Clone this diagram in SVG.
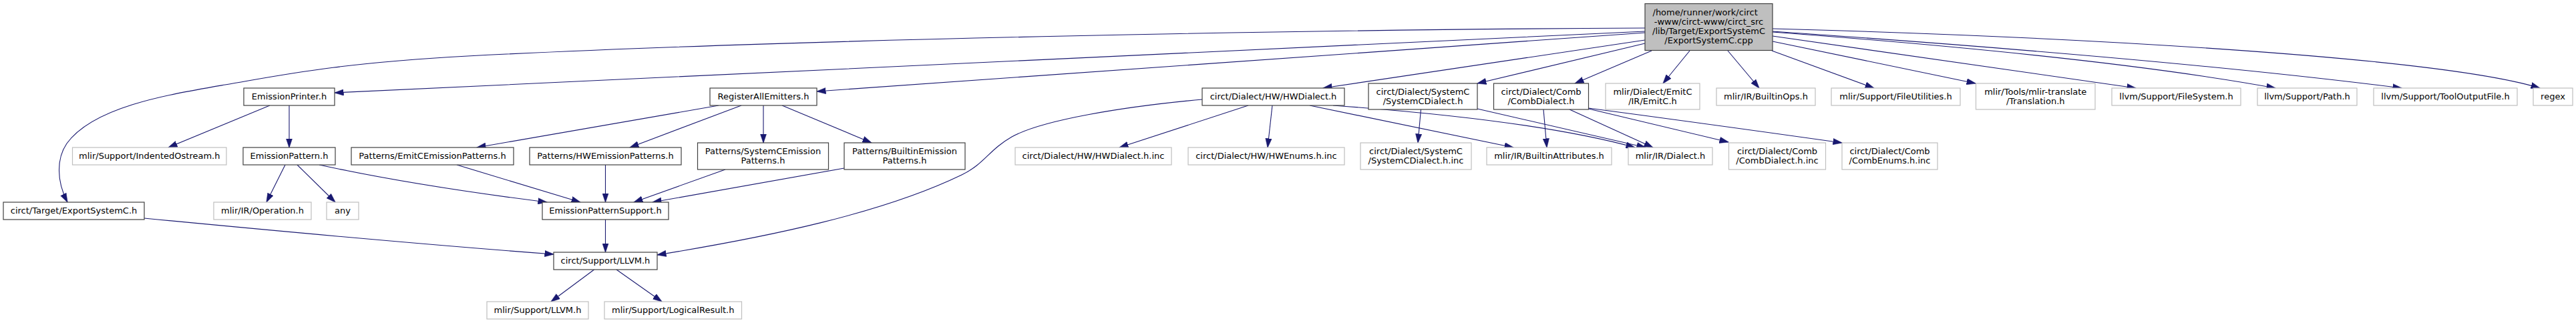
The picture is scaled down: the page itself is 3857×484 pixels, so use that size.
<svg xmlns="http://www.w3.org/2000/svg" width="3857" height="484" viewBox="0 0 3857 484">
<style>
.e{fill:none;stroke:#191970;stroke-width:1.1;marker-end:url(#ah)}
.n rect{fill:#fff;stroke:#404040;stroke-width:1.2}
.u rect{fill:#fff;stroke:#bfbfbf;stroke-width:1.2}
.t rect{fill:#bfbfbf;stroke:#404040;stroke-width:1.2}
text{font-family:"DejaVu Sans","Liberation Sans",sans-serif;font-size:13px;text-anchor:middle;fill:#000}
</style>
<defs>
<marker id="ah" markerUnits="userSpaceOnUse" markerWidth="14" markerHeight="10" viewBox="0 0 14 10" refX="13.5" refY="5" orient="auto">
<path d="M0,0.3 L14,5 L0,9.7 z" fill="#191970" stroke="#191970" stroke-width="0.5"/>
</marker>
</defs>
<rect width="3857" height="484" fill="#fff"/>
<g id="edges">
<path class="e" d="M2463,42 C2000,44 1200,58 700,84 C500,95 420,113 337,127 C250,142 140,160 100,215 C85,237 84,270 101,303"/>
<path class="e" d="M2463,47 C1900,70 1000,120 501,139"/>
<path class="e" d="M2463,49 C2000,82 1600,112 1223,137"/>
<path class="e" d="M2463,60 L1981,132"/>
<path class="e" d="M2463,65 L2212,125"/>
<path class="e" d="M2473,76 L2358,125"/>
<path class="e" d="M2530,76 L2490,125"/>
<path class="e" d="M2587,76 L2634,132"/>
<path class="e" d="M2653,76 L2806,132"/>
<path class="e" d="M2654,62 L2958,125"/>
<path class="e" d="M2654,54 L3198,132"/>
<path class="e" d="M2654,48 Q3150,85 3407,132"/>
<path class="e" d="M2654,47 Q3250,88 3596,132"/>
<path class="e" d="M2654,43 C3100,55 3650,85 3803,132"/>
<path class="e" d="M404,158 L252,221"/>
<path class="e" d="M433,158 L433,221"/>
<path class="e" d="M427,247 L399,303"/>
<path class="e" d="M445,247 L502,303"/>
<path class="e" d="M478,247 Q620,278 819,303"/>
<path class="e" d="M1076,158 L714,221"/>
<path class="e" d="M1110,158 L943,221"/>
<path class="e" d="M1143,158 L1143,214"/>
<path class="e" d="M1171,158 L1305,214"/>
<path class="e" d="M684,247 L869,303"/>
<path class="e" d="M906.5,247 L906.5,303"/>
<path class="e" d="M1086,254 L949,303"/>
<path class="e" d="M1264,252 L977,303"/>
<path class="e" d="M906.5,329 L906.5,378"/>
<path class="e" d="M216,327 Q600,364 829,381"/>
<path class="e" d="M1800,149 C1680,160 1560,180 1515,205 C1480,225 1475,245 1440,262 C1320,320 1150,355 984,382"/>
<path class="e" d="M889.6,404 L825,452"/>
<path class="e" d="M923,404 L991,452"/>
<path class="e" d="M1869,158 L1676,221"/>
<path class="e" d="M1905,158 L1898,221"/>
<path class="e" d="M1961,158 L2266,221"/>
<path class="e" d="M1996,158 Q2300,180 2448,221"/>
<path class="e" d="M2127.5,164 L2123,214"/>
<path class="e" d="M2212,163 L2464,221"/>
<path class="e" d="M2311,164 L2316,221"/>
<path class="e" d="M2350,164 L2475,221"/>
<path class="e" d="M2378.5,163 L2588,213"/>
<path class="e" d="M2378.5,162 Q2560,186 2758,214"/>
</g>
<g id="n-top" class="t"><rect x="2463" y="5.5" width="191" height="70"/>
<text x="2474.5" y="22.5" style="text-anchor:start">/home/runner/work/circt</text>
<text x="2558.5" y="36.7">-www/circt-www/circt_src</text>
<text x="2558.5" y="50.9">/lib/Target/ExportSystemC</text>
<text x="2558.5" y="65">/ExportSystemC.cpp</text></g>
<g id="n-emissionprinter" class="n"><rect x="365" y="132" width="136" height="26"/><text x="433" y="149">EmissionPrinter.h</text></g>
<g id="n-registerall" class="n"><rect x="1063" y="132" width="160" height="26"/><text x="1143" y="149">RegisterAllEmitters.h</text></g>
<g id="n-hwdialect" class="n"><rect x="1800" y="132" width="213" height="26"/><text x="1906.5" y="149">circt/Dialect/HW/HWDialect.h</text></g>
<g id="n-systemcdialect" class="n"><rect x="2049" y="125" width="163" height="39"/><text x="2130.5" y="142">circt/Dialect/SystemC</text><text x="2130.5" y="156">/SystemCDialect.h</text></g>
<g id="n-combdialect" class="n"><rect x="2236.5" y="125" width="142" height="39"/><text x="2307.5" y="142">circt/Dialect/Comb</text><text x="2307.5" y="156">/CombDialect.h</text></g>
<g id="n-emitc" class="u"><rect x="2404" y="125" width="141" height="39"/><text x="2474.5" y="142">mlir/Dialect/EmitC</text><text x="2474.5" y="156">/IR/EmitC.h</text></g>
<g id="n-builtinops" class="u"><rect x="2570" y="132" width="148" height="26"/><text x="2644" y="149">mlir/IR/BuiltinOps.h</text></g>
<g id="n-fileutilities" class="u"><rect x="2742" y="132" width="193" height="26"/><text x="2838.5" y="149">mlir/Support/FileUtilities.h</text></g>
<g id="n-translation" class="u"><rect x="2958.5" y="125" width="178.5" height="39"/><text x="3047.75" y="142">mlir/Tools/mlir-translate</text><text x="3047.75" y="156">/Translation.h</text></g>
<g id="n-filesystem" class="u"><rect x="3162" y="132" width="193" height="26"/><text x="3258.5" y="149">llvm/Support/FileSystem.h</text></g>
<g id="n-path" class="u"><rect x="3380" y="132" width="149" height="26"/><text x="3454.5" y="149">llvm/Support/Path.h</text></g>
<g id="n-tooloutputfile" class="u"><rect x="3554" y="132" width="215" height="26"/><text x="3661.5" y="149">llvm/Support/ToolOutputFile.h</text></g>
<g id="n-regex" class="u"><rect x="3793" y="132" width="59" height="26"/><text x="3822.5" y="149">regex</text></g>
<g id="n-indentedostream" class="u"><rect x="108.5" y="221" width="230.5" height="26"/><text x="223.75" y="238">mlir/Support/IndentedOstream.h</text></g>
<g id="n-emissionpattern" class="n"><rect x="364" y="221" width="138" height="26"/><text x="433" y="238">EmissionPattern.h</text></g>
<g id="n-emitcpatterns" class="n"><rect x="526" y="221" width="243" height="26"/><text x="647.5" y="238">Patterns/EmitCEmissionPatterns.h</text></g>
<g id="n-hwpatterns" class="n"><rect x="793" y="221" width="227" height="26"/><text x="906.5" y="238">Patterns/HWEmissionPatterns.h</text></g>
<g id="n-systemcpatterns" class="n"><rect x="1044.5" y="214" width="196" height="40"/><text x="1142.5" y="231">Patterns/SystemCEmission</text><text x="1142.5" y="245">Patterns.h</text></g>
<g id="n-builtinpatterns" class="n"><rect x="1264" y="214" width="181" height="40"/><text x="1354.5" y="231">Patterns/BuiltinEmission</text><text x="1354.5" y="245">Patterns.h</text></g>
<g id="n-hwdialectinc" class="u"><rect x="1520" y="221" width="234" height="26"/><text x="1637" y="238">circt/Dialect/HW/HWDialect.h.inc</text></g>
<g id="n-hwenumsinc" class="u"><rect x="1779" y="221" width="234" height="26"/><text x="1896" y="238">circt/Dialect/HW/HWEnums.h.inc</text></g>
<g id="n-systemcdialectinc" class="u"><rect x="2037" y="214" width="166" height="40"/><text x="2120" y="231">circt/Dialect/SystemC</text><text x="2120" y="245">/SystemCDialect.h.inc</text></g>
<g id="n-builtinattributes" class="u"><rect x="2226" y="221" width="187" height="26"/><text x="2319.5" y="238">mlir/IR/BuiltinAttributes.h</text></g>
<g id="n-dialect" class="u"><rect x="2438" y="221" width="126" height="26"/><text x="2501" y="238">mlir/IR/Dialect.h</text></g>
<g id="n-combdialectinc" class="u"><rect x="2588.5" y="214" width="145" height="40"/><text x="2661" y="231">circt/Dialect/Comb</text><text x="2661" y="245">/CombDialect.h.inc</text></g>
<g id="n-combenumsinc" class="u"><rect x="2758" y="214" width="143" height="40"/><text x="2829.5" y="231">circt/Dialect/Comb</text><text x="2829.5" y="245">/CombEnums.h.inc</text></g>
<g id="n-exportsystemch" class="n"><rect x="5" y="303" width="211" height="26"/><text x="110.5" y="320">circt/Target/ExportSystemC.h</text></g>
<g id="n-operation" class="u"><rect x="320" y="303" width="146" height="26"/><text x="393" y="320">mlir/IR/Operation.h</text></g>
<g id="n-any" class="u"><rect x="489" y="303" width="48" height="26"/><text x="513" y="320">any</text></g>
<g id="n-patternsupport" class="n"><rect x="812" y="303" width="189" height="26"/><text x="906.5" y="320">EmissionPatternSupport.h</text></g>
<g id="n-circtllvm" class="n"><rect x="829" y="378" width="155" height="26"/><text x="906.5" y="395">circt/Support/LLVM.h</text></g>
<g id="n-mlirllvm" class="u"><rect x="729" y="452" width="152" height="26"/><text x="805" y="469">mlir/Support/LLVM.h</text></g>
<g id="n-logicalresult" class="u"><rect x="905" y="452" width="205.5" height="26"/><text x="1007.75" y="469">mlir/Support/LogicalResult.h</text></g>
</svg>
